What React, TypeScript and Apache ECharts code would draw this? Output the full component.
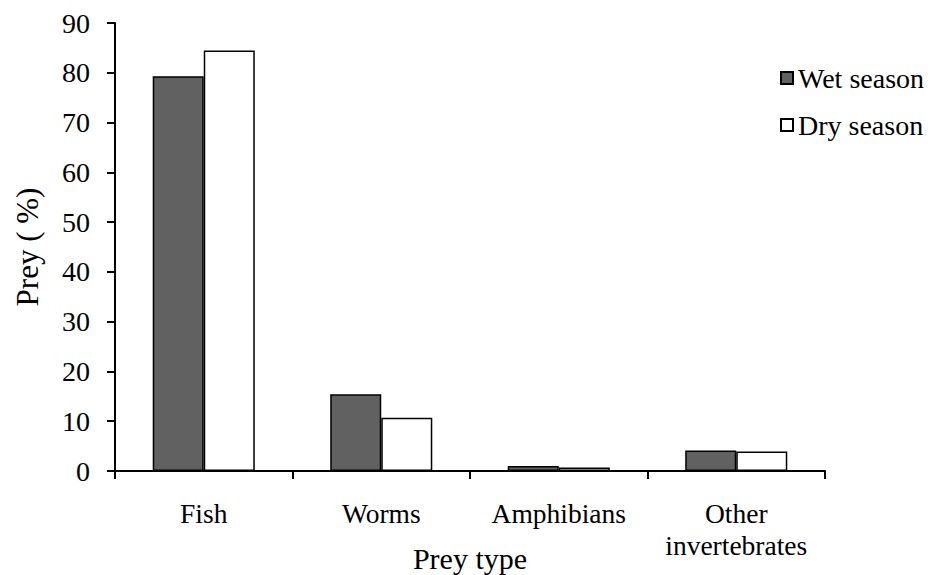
import React, { useEffect, useRef } from "react";
import * as echarts from "echarts";

const categories = ["Fish", "Worms", "Amphibians", "Other\ninvertebrates"];
const wetSeason = [79.3, 15.4, 1.0, 4.1];
const drySeason = [84.5, 10.7, 0.7, 3.9];
const seriesNames = ["Wet season", "Dry season"];

const FONT = "Liberation Serif";

export default function App() {
  const ref = useRef<HTMLDivElement>(null);
  useEffect(() => {
    if (!ref.current) return;
    const chart = echarts.init(ref.current, undefined, { renderer: "svg" });
    chart.setOption({
      animation: false,
      backgroundColor: "#ffffff",
      textStyle: { fontFamily: FONT, color: "#000" },
      grid: {
        left: 115,
        right: 106,
        top: 23,
        bottom: 104,
        containLabel: false,
        outerBoundsMode: "none",
      },
      legend: {
        orient: "vertical",
        left: 780,
        top: 64,
        padding: 0,
        itemWidth: 12,
        itemHeight: 12,
        itemGap: 19,
        icon: "rect",
        textStyle: { fontFamily: FONT, fontSize: 28, color: "#000", lineHeight: 28 },
        data: seriesNames,
      },
      xAxis: {
        type: "category",
        data: categories,
        name: "Prey type",
        nameLocation: "middle",
        nameGap: 72,
        nameMoveOverlap: false,
        nameTextStyle: { fontFamily: FONT, fontSize: 30, color: "#000" },
        axisLine: { lineStyle: { color: "#000", width: 2 } },
        axisTick: { show: true, length: 8, inside: false, lineStyle: { color: "#000", width: 2 } },
        axisLabel: { fontFamily: FONT, fontSize: 27.5, color: "#000", margin: 26, lineHeight: 32, interval: 0 },
      },
      yAxis: {
        type: "value",
        min: 0,
        max: 90,
        interval: 10,
        name: "Prey ( %)",
        nameLocation: "middle",
        nameGap: 72,
        nameMoveOverlap: false,
        nameTextStyle: { fontFamily: FONT, fontSize: 31, color: "#000" },
        axisLine: { show: true, lineStyle: { color: "#000", width: 2 } },
        axisTick: { show: true, length: 8, lineStyle: { color: "#000", width: 2 } },
        axisLabel: { fontFamily: FONT, fontSize: 28, color: "#000", margin: 25 },
        splitLine: { show: false },
      },
      series: [
        {
          name: seriesNames[0],
          type: "bar",
          data: wetSeason,
          barGap: "0%",
          barCategoryGap: "42.5%",
          itemStyle: { color: "#616161", borderColor: "#000", borderWidth: 1.5 },
        },
        {
          name: seriesNames[1],
          type: "bar",
          data: drySeason,
          barGap: "0%",
          barCategoryGap: "42.5%",
          itemStyle: { color: "#ffffff", borderColor: "#000", borderWidth: 1.5 },
        },
      ],
    });
    return () => chart.dispose();
  }, []);
  return <div ref={ref} style={{ width: 931, height: 575, position: "absolute", left: 0, top: 0 }} />;
}
